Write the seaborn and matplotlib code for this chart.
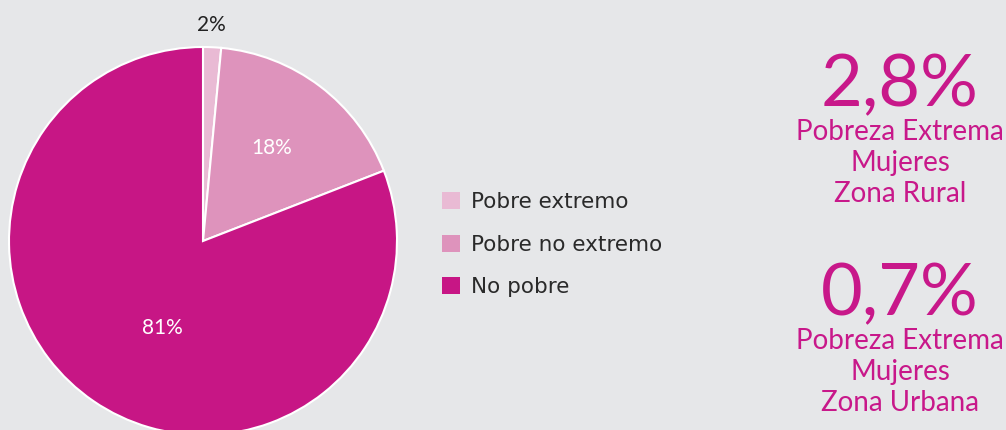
import matplotlib
matplotlib.use("Agg")
import matplotlib.pyplot as plt
import seaborn as sns
from matplotlib.patches import Patch

# data
categories = ["Pobre extremo", "Pobre no extremo", "No pobre"]
shares = [1.5, 17.6, 80.9]
share_labels = ["2%", "18%", "81%"]
palette = ["#E9BAD4", "#DE93BC", "#C71685"]

highlights = ["2,8%", "0,7%"]
highlight_text = ["Pobreza Extrema\nMujeres\nZona Rural",
                  "Pobreza Extrema\nMujeres\nZona Urbana"]

bg = "#E6E7E9"
sns.set_style("white", {"axes.facecolor": bg, "figure.facecolor": bg})
plt.rcParams['font.family'] = ['Lato', 'DejaVu Sans']

W, H = 1006, 430
fig = plt.figure(figsize=(W / 100, H / 100), dpi=100)
ax = fig.add_axes([0, 0, 1, 1])

# pie, clockwise from the top
cx, cy, r = 203, H - 241, 194
wedges, _ = ax.pie(shares, colors=palette, startangle=90, counterclock=False,
                   center=(cx, cy), radius=r, frame=True,
                   wedgeprops=dict(edgecolor="white", linewidth=1.5))
ax.set_xlim(0, W)
ax.set_ylim(0, H)
ax.set_aspect("equal")
ax.axis("off")

# slice labels
ax.text(211, H - 25, share_labels[0], ha="center", va="center", fontsize=15, color="#222222")
ax.text(272, H - 148, share_labels[1], ha="center", va="center", fontsize=15, color="white")
ax.text(162, H - 328, share_labels[2], ha="center", va="center", fontsize=15, color="white")

# legend
handles = [Patch(facecolor=c, edgecolor="none") for c in palette]
leg = fig.legend(handles, categories, loc="upper left", bbox_to_anchor=(442 / W, 1 - 192 / H),
                 frameon=False, borderpad=0, borderaxespad=0,
                 handlelength=0.85, handleheight=0.85,
                 handletextpad=0.5, labelspacing=1.05,
                 prop=dict(family="DejaVu Sans", size=15.5))
for t in leg.get_texts():
    t.set_color("#2a2a2a")

# side callouts
pink = "#C8188A"
for i, (big, small) in enumerate(zip(highlights, highlight_text)):
    y0 = 86 + i * 209
    ax.text(900, H - y0, big, ha="center", va="center", fontsize=52, color=pink)
    ax.text(900, H - (y0 + 33), small, ha="center", va="top", fontsize=20,
            color=pink, linespacing=1.24)

fig.savefig("out.png", dpi=100, facecolor=bg)
